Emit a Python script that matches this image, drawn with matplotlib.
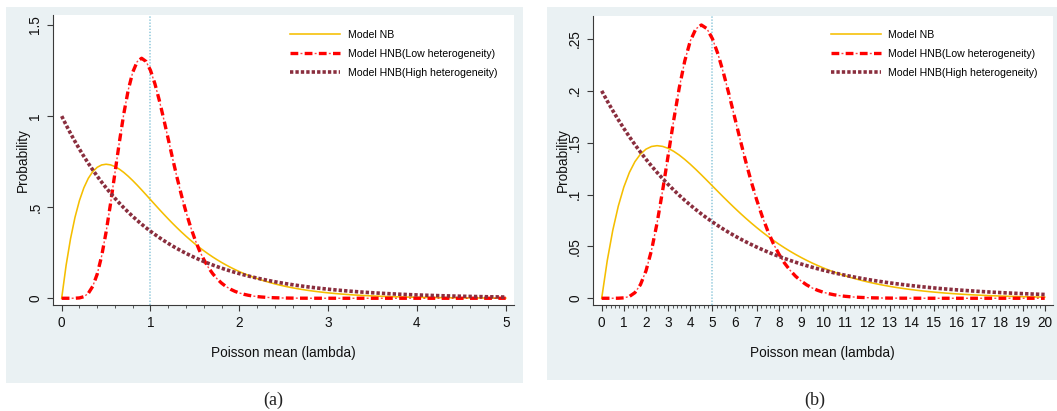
import numpy as np
import matplotlib
matplotlib.use("Agg")
import matplotlib.pyplot as plt
from matplotlib.patches import Rectangle
from matplotlib.legend_handler import HandlerTuple

plt.rcParams['font.family'] = ['Liberation Sans', 'DejaVu Sans']
plt.rcParams['lines.scale_dashes'] = False

# ---------------- data ----------------
# Panel (a): Poisson mean 1, lambda sampled every 0.05 from 0 to 5
lam_a = np.round(np.arange(0, 5.0001, 0.05), 3)
nb_a = [0, 0.18097, 0.32749, 0.44449, 0.53626, 0.60653, 0.65857, 0.69522, 0.71893, 0.73183,
        0.73576, 0.73232, 0.72286, 0.70858, 0.69048, 0.66939, 0.64608, 0.62113, 0.59508, 0.56836,
        0.54134, 0.51432, 0.48752, 0.46119, 0.43545, 0.41042, 0.38622, 0.36291, 0.34054, 0.31914,
        0.29872, 0.27930, 0.26088, 0.24343, 0.22694, 0.21138, 0.19673, 0.18296, 0.17002, 0.15789,
        0.14653, 0.13590, 0.12597, 0.11669, 0.10804, 0.09998, 0.09248, 0.08550, 0.07901, 0.07298,
        0.06738, 0.06219, 0.05737, 0.05291, 0.04878, 0.04496, 0.04142, 0.03814, 0.03512, 0.03232,
        0.02975, 0.02736, 0.02517, 0.02314, 0.02127, 0.01954, 0.01796, 0.01649, 0.01515, 0.01391,
        0.01277, 0.01172, 0.01075, 0.00986, 0.00905, 0.00830, 0.00761, 0.00697, 0.00639, 0.00586,
        0.00537, 0.00492, 0.00450, 0.00413, 0.00378, 0.00346, 0.00317, 0.00290, 0.00265, 0.00243,
        0.00222, 0.00203, 0.00186, 0.00170, 0.00156, 0.00142, 0.00130, 0.00119, 0.00109, 0.00099,
        0.00091]
hnb_low_a = [0, 0.0, 0.00001, 0.00024, 0.00191, 0.00863, 0.02701, 0.06559, 0.13231, 0.23164,
             0.36265, 0.51866, 0.68840, 0.85809, 1.01405, 1.14439, 1.24076, 1.29870, 1.31757, 1.30003,
             1.25110, 1.17718, 1.08526, 0.98204, 0.87364, 0.76516, 0.66054, 0.56272, 0.47345, 0.39381,
             0.32407, 0.26342, 0.21311, 0.17011, 0.13529, 0.10652, 0.08325, 0.06462, 0.04982, 0.03818,
             0.02908, 0.02203, 0.01660, 0.01244, 0.00928, 0.00689, 0.00509, 0.00375, 0.00275, 0.00201,
             0.00146, 0.00106, 0.00076, 0.00055, 0.00039, 0.00028, 0.00020, 0.00014, 0.00010, 0.00007,
             0.00005, 0.00003, 0.00002, 0.00001, 0, 0, 0, 0, 0, 0,
             0, 0, 0, 0, 0, 0, 0, 0, 0, 0,
             0, 0, 0, 0, 0, 0, 0, 0, 0, 0,
             0, 0, 0, 0, 0, 0, 0, 0, 0, 0,
             0]
hnb_high_a = [1.0, 0.95123, 0.90484, 0.86071, 0.81873, 0.77880, 0.74082, 0.70469, 0.67032, 0.63763,
              0.60653, 0.57695, 0.54881, 0.52205, 0.49659, 0.47237, 0.44933, 0.42741, 0.40657, 0.38674,
              0.36788, 0.34994, 0.33287, 0.31664, 0.30119, 0.28650, 0.27253, 0.25924, 0.24660, 0.23457,
              0.22313, 0.21225, 0.20190, 0.19205, 0.18268, 0.17377, 0.16530, 0.15724, 0.14957, 0.14227,
              0.13534, 0.12873, 0.12246, 0.11648, 0.11080, 0.10540, 0.10026, 0.09537, 0.09072, 0.08629,
              0.08208, 0.07808, 0.07427, 0.07065, 0.06721, 0.06393, 0.06081, 0.05784, 0.05502, 0.05234,
              0.04979, 0.04736, 0.04505, 0.04285, 0.04076, 0.03877, 0.03688, 0.03508, 0.03337, 0.03175,
              0.03020, 0.02872, 0.02732, 0.02599, 0.02472, 0.02352, 0.02237, 0.02128, 0.02024, 0.01925,
              0.01832, 0.01742, 0.01657, 0.01576, 0.01500, 0.01426, 0.01357, 0.01291, 0.01228, 0.01168,
              0.01111, 0.01057, 0.01005, 0.00956, 0.00910, 0.00865, 0.00823, 0.00783, 0.00745, 0.00708,
              0.00674]
mean_a = 1
xticks_a = [0, 1, 2, 3, 4, 5]
yticks_a = [0, 0.5, 1, 1.5]
ylabels_a = ["0", ".5", "1", "1.5"]

# Panel (b): Poisson mean 5, lambda sampled every 0.25 from 0 to 20
lam_b = np.round(np.arange(0, 20.0001, 0.25), 3)
nb_b = [0, 0.03619, 0.06550, 0.08890, 0.10725, 0.12131, 0.13171, 0.13904, 0.14379, 0.14637,
        0.14715, 0.14646, 0.14457, 0.14172, 0.13810, 0.13388, 0.12922, 0.12423, 0.11902, 0.11367,
        0.10827, 0.10286, 0.09750, 0.09224, 0.08709, 0.08208, 0.07724, 0.07258, 0.06811, 0.06383,
        0.05974, 0.05586, 0.05218, 0.04869, 0.04539, 0.04228, 0.03935, 0.03659, 0.03400, 0.03158,
        0.02931, 0.02718, 0.02519, 0.02334, 0.02161, 0.02000, 0.01850, 0.01710, 0.01580, 0.01460,
        0.01348, 0.01244, 0.01147, 0.01058, 0.00976, 0.00899, 0.00828, 0.00763, 0.00702, 0.00646,
        0.00595, 0.00547, 0.00503, 0.00463, 0.00425, 0.00391, 0.00359, 0.00330, 0.00303, 0.00278,
        0.00255, 0.00234, 0.00215, 0.00197, 0.00181, 0.00166, 0.00152, 0.00139, 0.00128, 0.00117,
        0.00107]
hnb_low_b = [0, 0, 0.000002, 0.00005, 0.00038, 0.00173, 0.00540, 0.01312, 0.02646, 0.04633,
             0.07253, 0.10373, 0.13768, 0.17162, 0.20281, 0.22888, 0.24815, 0.25974, 0.26351, 0.26001,
             0.25022, 0.23544, 0.21705, 0.19641, 0.17473, 0.15303, 0.13211, 0.11254, 0.09469, 0.07876,
             0.06481, 0.05268, 0.04262, 0.03402, 0.02706, 0.02130, 0.01665, 0.01292, 0.00996, 0.00764,
             0.00582, 0.00441, 0.00332, 0.00249, 0.00186, 0.00138, 0.00102, 0.00075, 0.00055, 0.00040,
             0.00029, 0.00021, 0.00015, 0.00011, 0.00008, 0.00006, 0.00004, 0.00003, 0.00002, 0.00001,
             0.00001, 0, 0, 0, 0, 0, 0, 0, 0, 0,
             0, 0, 0, 0, 0, 0, 0, 0, 0, 0,
             0]
hnb_high_b = [0.2, 0.19025, 0.18097, 0.17214, 0.16375, 0.15576, 0.14816, 0.14094, 0.13406, 0.12753,
              0.12131, 0.11539, 0.10976, 0.10441, 0.09932, 0.09447, 0.08987, 0.08548, 0.08131, 0.07735,
              0.07358, 0.06999, 0.06657, 0.06333, 0.06024, 0.05730, 0.05451, 0.05185, 0.04932, 0.04691,
              0.04463, 0.04245, 0.04038, 0.03841, 0.03654, 0.03475, 0.03306, 0.03145, 0.02991, 0.02845,
              0.02707, 0.02575, 0.02449, 0.02330, 0.02216, 0.02108, 0.02005, 0.01907, 0.01814, 0.01726,
              0.01642, 0.01562, 0.01485, 0.01413, 0.01344, 0.01279, 0.01216, 0.01157, 0.01100, 0.01047,
              0.00996, 0.00947, 0.00901, 0.00857, 0.00815, 0.00775, 0.00738, 0.00702, 0.00667, 0.00635,
              0.00604, 0.00574, 0.00546, 0.00520, 0.00494, 0.00470, 0.00447, 0.00426, 0.00405, 0.00385,
              0.00366]
mean_b = 5
xticks_b = list(range(0, 21))
yticks_b = [0, 0.05, 0.1, 0.15, 0.2, 0.25]
ylabels_b = ["0", ".05", ".1", ".15", ".2", ".25"]

labels = ["Model NB", "Model HNB(Low heterogeneity)", "Model HNB(High heterogeneity)"]
captions = ["(a)", "(b)"]

# ---------------- styling ----------------
W, H = 1057, 411
BG = '#EAF1F3'
GOLD = '#F5BE00'
RED = '#FF0000'
MAROON = '#8A2E3E'
VLINE = '#9FD0E0'
AX = '#3A3A3A'

fig = plt.figure(figsize=(W / 100, H / 100), dpi=100)


def fr(x0, y0, x1, y1):
    return [x0 / W, 1 - y1 / H, (x1 - x0) / W, (y1 - y0) / H]


for (x0, y0, x1, y1) in [(6, 6.7, 522.7, 382.7), (546.7, 6.7, 1057, 380)]:
    b = fr(x0, y0, x1, y1)
    fig.add_artist(Rectangle((b[0], b[1]), b[2], b[3], transform=fig.transFigure,
                             facecolor=BG, edgecolor='none', zorder=0))

panels = [
    dict(rect=(52.7, 15, 514, 305), xlim=(-0.101, 5.093), ylim=(-0.037, 1.555),
         lam=lam_a, nb=nb_a, low=hnb_low_a, high=hnb_high_a, mean=mean_a,
         xt=xticks_a, yt=yticks_a, yl=ylabels_a, minor=0.2, leg=(290, 29.5), cap=(273, 400)),
    dict(rect=(592.5, 16, 1052.7, 305), xlim=(-0.415, 20.36), ylim=(-0.0065, 0.2722),
         lam=lam_b, nb=nb_b, low=hnb_low_b, high=hnb_high_b, mean=mean_b,
         xt=xticks_b, yt=yticks_b, yl=ylabels_b, minor=0.2, leg=(830.5, 29.5), cap=(815, 400)),
]

for i, p in enumerate(panels):
    ax = fig.add_axes(fr(*p['rect']))
    ax.set_facecolor('white')
    ax.set_xlim(*p['xlim'])
    ax.set_ylim(*p['ylim'])
    ax.axvline(p['mean'], color=VLINE, lw=1.3, linestyle=(0, (1.0, 1.2)), zorder=1)
    l_nb, = ax.plot(p['lam'], p['nb'], color=GOLD, lw=1.15, zorder=2, solid_joinstyle='round')
    l_low1, = ax.plot(p['lam'], p['low'], color=RED, lw=2.4, linestyle=(0, (5.6, 4.6)),
                      dash_capstyle='butt', zorder=3)
    l_low2, = ax.plot(p['lam'], p['low'], color=RED, lw=1.0, linestyle=(3.0, (1.4, 8.8)),
                      dash_capstyle='butt', zorder=3, alpha=0.75)
    l_high, = ax.plot(p['lam'], p['high'], color=MAROON, lw=2.6, linestyle=(0, (2.4, 1.5)),
                      dash_capstyle='butt', zorder=4)

    for s in ['top', 'right']:
        ax.spines[s].set_visible(False)
    for s in ['left', 'bottom']:
        ax.spines[s].set_color(AX)
        ax.spines[s].set_linewidth(0.8)

    ax.set_xticks(p['xt'])
    ax.set_xticklabels([str(v) for v in p['xt']])
    ax.set_xticks(np.arange(p['xt'][0], p['xt'][-1] + 1e-9, p['minor']), minor=True)
    ax.set_yticks(p['yt'])
    ax.set_yticklabels(p['yl'], rotation=90, va='center')
    ax.tick_params(axis='both', which='major', direction='out', length=4.2, width=0.8,
                   color=AX, labelsize=9.8, labelcolor='#111111')
    ax.tick_params(axis='x', which='major', pad=3.6)
    ax.tick_params(axis='y', which='major', pad=3.2)
    ax.tick_params(axis='x', which='minor', direction='out', length=2.2, width=0.6, color=AX)

    ax.set_xlabel("Poisson mean (lambda)", fontsize=9.8, labelpad=12, color='#111111')
    ax.set_ylabel("Probability", fontsize=9.8, labelpad=-1, color='#111111')

    x0, y0, x1, y1 = p['rect']
    lx, ly = p['leg']
    ax_pos = ((lx - x0) / (x1 - x0), 1 - (ly - y0) / (y1 - y0))
    ax.legend([l_nb, (l_low1, l_low2), l_high], labels,
              handler_map={tuple: HandlerTuple(ndivide=1)},
              loc='upper left', bbox_to_anchor=ax_pos, frameon=False,
              fontsize=7.6, handlelength=4.75, handletextpad=0.72, labelspacing=0.86,
              borderpad=0, borderaxespad=0)

    cx, cy = p['cap']
    fig.text(cx / W, 1 - cy / H, captions[i], ha='center', va='center',
             fontsize=13, family='Liberation Serif', color='#222222')

fig.savefig('out.png', dpi=100, facecolor='white')
